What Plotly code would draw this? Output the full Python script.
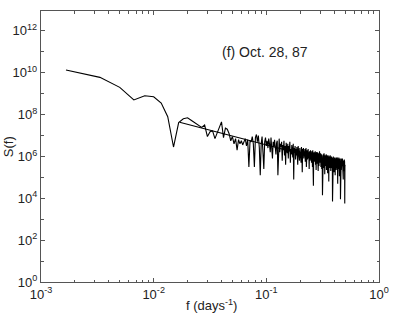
import plotly.graph_objects as go

# Spectrum: frequencies k/600 (days^-1), k = 1..300; log10 S(f)
n_days = 600
log_s = [
    10.13, 9.78, 9.30, 8.70, 8.90, 8.85, 8.55, 7.90, 6.45, 7.62,
    7.80, 7.85, 7.72, 7.60, 7.48, 7.39, 7.50, 6.95, 7.18, 7.22,
    6.85, 7.10, 7.35, 7.65, 6.90, 7.35, 7.30, 7.10, 6.75, 6.95,
    6.60, 6.85, 6.30, 6.80, 6.60, 6.75, 6.55, 6.70, 6.85, 6.50,
    6.80, 5.50, 6.75, 6.70, 6.95, 6.60, 5.50, 6.90, 7.05, 6.70,
    7.00, 6.40, 5.10, 6.60, 6.95, 6.20, 5.40, 6.70, 6.90, 6.50,
    6.75, 6.40, 6.85, 6.60, 6.20, 6.90, 6.55, 5.90, 6.70, 6.45,
    6.80, 6.30, 6.10, 6.65, 6.75, 5.10, 6.50, 6.85, 6.20, 6.60,
    6.45, 6.70, 5.80, 6.55, 6.30, 6.75, 6.05, 6.50, 5.60, 6.65,
    6.40, 6.15, 6.60, 5.90, 6.50, 6.25, 6.70, 5.70, 6.35, 6.10,
    6.55, 6.30, 5.95, 6.60, 4.90, 6.40, 6.20, 6.50, 5.85, 6.35,
    6.05, 6.45, 6.20, 5.60, 6.50, 6.10, 6.35, 5.80, 6.40, 6.00,
    6.30, 5.70, 6.45, 6.15, 5.25, 6.35, 6.05, 6.40, 5.90, 6.25,
    6.00, 6.35, 5.75, 6.20, 6.40, 5.50, 6.10, 6.30, 5.85, 6.15,
    6.35, 5.90, 6.20, 5.40, 6.25, 6.05, 5.80, 6.30, 5.95, 6.15,
    5.70, 6.25, 6.00, 5.50, 6.30, 5.85, 4.60, 6.10, 6.20, 5.75,
    6.15, 5.95, 6.25, 5.60, 6.05, 5.35, 6.20, 5.90, 6.10, 5.65,
    6.20, 5.80, 5.30, 6.05, 6.15, 5.55, 5.95, 6.25, 5.70, 6.00,
    5.75, 6.15, 5.50, 5.95, 6.10, 5.40, 6.05, 5.80, 4.15, 6.00,
    5.85, 6.10, 5.45, 5.90, 6.15, 5.60, 5.95, 5.15, 6.05, 5.70,
    6.00, 5.55, 5.90, 6.10, 5.35, 5.85, 6.05, 5.65, 5.95, 5.20,
    5.90, 6.05, 5.60, 5.80, 4.80, 6.00, 5.75, 5.95, 5.45, 5.85,
    6.05, 5.55, 5.90, 5.30, 5.95, 5.70, 6.00, 5.45, 5.85, 5.60,
    5.95, 3.85, 5.80, 5.90, 5.40, 6.00, 5.65, 5.85, 5.25, 5.90,
    5.60, 5.95, 5.45, 5.80, 5.10, 5.90, 5.70, 5.55, 5.95, 5.35,
    5.85, 5.60, 5.90, 5.20, 5.75, 5.95, 5.50, 4.70, 5.85, 5.65,
    5.90, 5.40, 5.75, 5.95, 5.55, 5.80, 5.05, 5.85, 5.60, 5.90,
    5.45, 5.80, 3.95, 5.85, 5.70, 5.50, 5.90, 5.35, 5.80, 5.60,
    5.85, 5.40, 5.75, 5.90, 5.25, 5.70, 5.55, 5.85, 4.90, 5.75,
    5.80, 5.45, 5.70, 5.30, 5.85, 5.55, 5.75, 3.75, 5.60, 5.50,
]
freq = [(k + 1) / n_days for k in range(len(log_s))]
spectrum = [10 ** v for v in log_s]

# Power-law fit line endpoints
fit_f = [0.017, 0.5]
fit_s = [10 ** 7.63, 10 ** 5.57]

x_tick_vals = [1e-3, 1e-2, 1e-1, 1e0]
x_tick_text = ["10<sup>-3</sup>", "10<sup>-2</sup>", "10<sup>-1</sup>", "10<sup>0</sup>"]
y_tick_vals = [1e0, 1e2, 1e4, 1e6, 1e8, 1e10, 1e12]
y_tick_text = ["10<sup>0</sup>", "10<sup>2</sup>", "10<sup>4</sup>", "10<sup>6</sup>",
               "10<sup>8</sup>", "10<sup>10</sup>", "10<sup>12</sup>"]

font = "Liberation Sans, Arial, sans-serif"
axis_col = "#555555"

fig = go.Figure()
fig.add_trace(go.Scatter(x=freq, y=spectrum, mode="lines",
                         line=dict(color="black", width=1.1), showlegend=False))
fig.add_trace(go.Scatter(x=fit_f, y=fit_s, mode="lines",
                         line=dict(color="black", width=1.1), showlegend=False))

fig.update_xaxes(type="log", range=[-3, 0], tickvals=x_tick_vals, ticktext=x_tick_text,
                 ticks="inside", ticklen=4, tickcolor=axis_col, showline=True,
                 linecolor=axis_col, linewidth=1.2, mirror="ticks", showgrid=False,
                 zeroline=False, tickfont=dict(size=13, color="#222"),
                 minor=dict(dtick="D1", ticks="inside", ticklen=2.5, tickcolor=axis_col,
                            showgrid=False))
fig.update_yaxes(type="log", range=[0, 12.95], tickvals=y_tick_vals, ticktext=y_tick_text,
                 ticks="inside", ticklen=4, tickcolor=axis_col, showline=True,
                 linecolor=axis_col, linewidth=1.2, mirror="ticks", showgrid=False,
                 zeroline=False, tickfont=dict(size=13, color="#222"),
                 minor=dict(dtick=1, ticks="inside", ticklen=2.5, tickcolor=axis_col,
                            showgrid=False))

fig.update_layout(
    width=399, height=319, autosize=False,
    margin=dict(l=41, r=13, t=10, b=37),
    plot_bgcolor="white", paper_bgcolor="white",
    font=dict(family=font, color="#222"),
    hovermode=False,
    annotations=[
        dict(text="(f) Oct. 28, 87", xref="paper", yref="paper", x=0.664, y=0.847,
             showarrow=False, font=dict(size=14, color="#222"), xanchor="center", yanchor="middle"),
        dict(text="f (days<sup>-1</sup>)", xref="paper", yref="paper", x=0.504, y=-0.085,
             showarrow=False, font=dict(size=13, color="#222"), xanchor="center", yanchor="middle"),
        dict(text="S(f)", xref="paper", yref="paper", x=-0.0957, y=0.5, textangle=-90,
             showarrow=False, font=dict(size=13, color="#222"), xanchor="center", yanchor="middle"),
    ],
)

# Remove the default page margin so the figure sits at the window's top-left corner.
fig.write_html("out.html", config={"displayModeBar": False, "staticPlot": True},
               post_script="document.body.style.margin='0';")
